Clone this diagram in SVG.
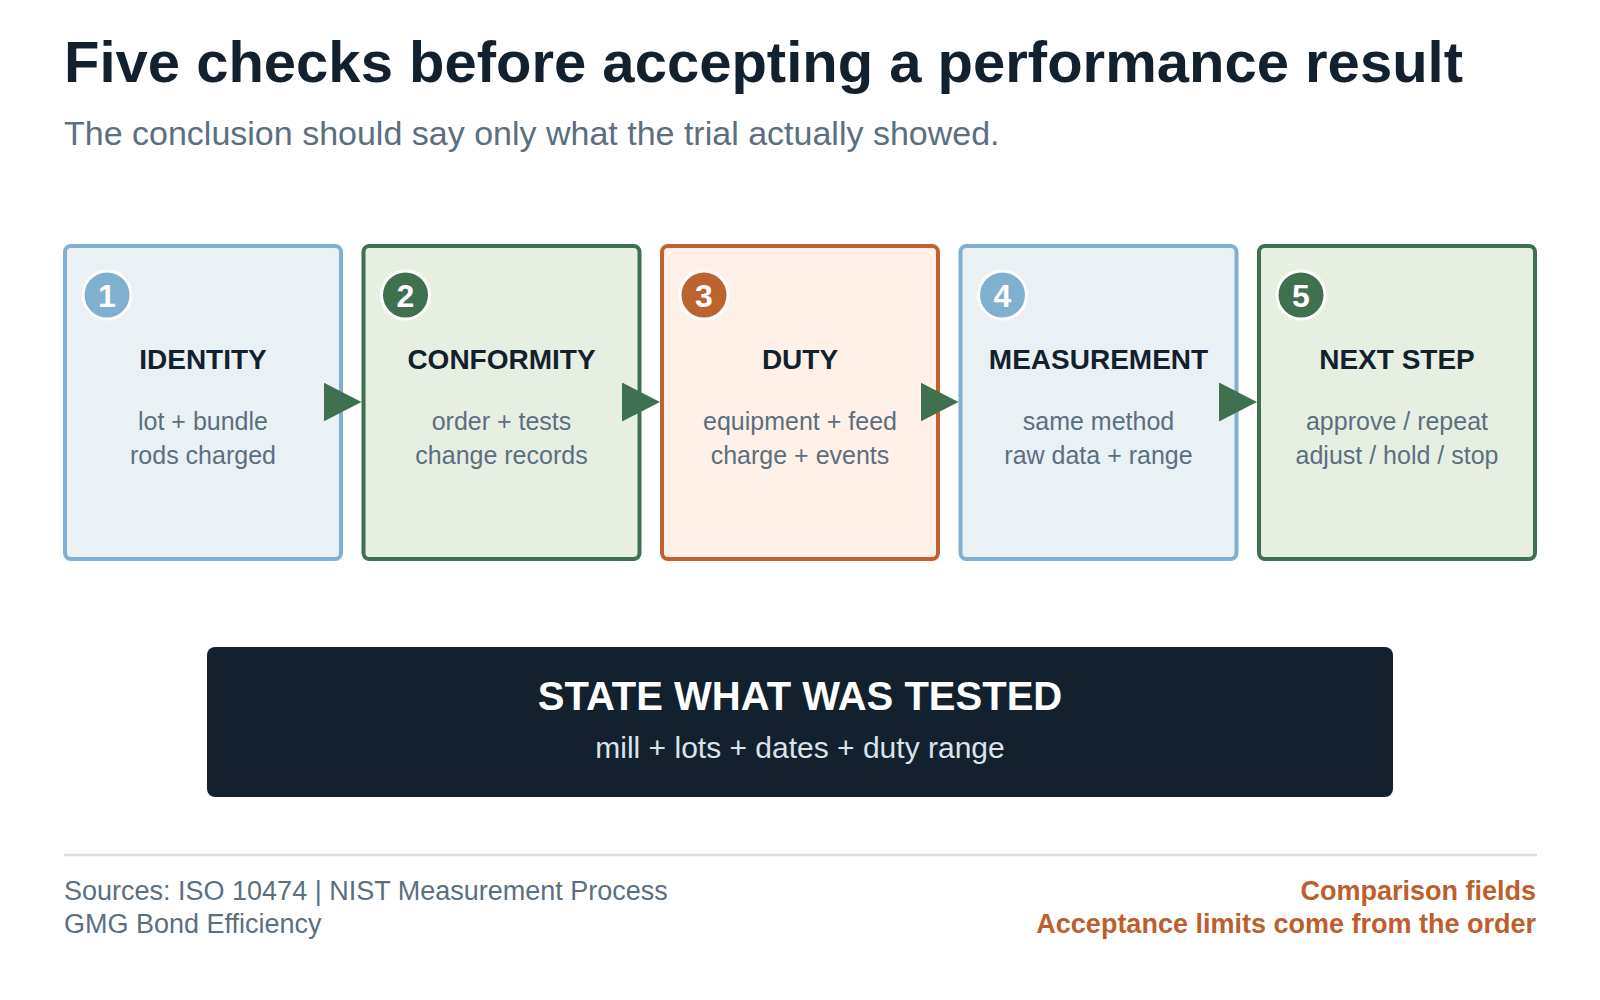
<svg xmlns="http://www.w3.org/2000/svg" width="1600" height="1000" viewBox="0 0 1600 1000">
<style>
text{font-family:"Liberation Sans",Arial,sans-serif}
.title{font-size:58px;font-weight:bold;fill:#13212e}
.sub{font-size:34px;fill:#5b6f80}
.box{stroke-width:4}
.blue .box{fill:#eaf1f5;stroke:#7fb0cf}
.green .box{fill:#e7efe3;stroke:#3f7150}
.orange .box{fill:#fff1e8;stroke:#bd6330}
.blue circle{fill:#7fb0cf}
.green circle{fill:#3f7150}
.orange circle{fill:#bd6330}
circle{stroke:#fff;stroke-width:3}
.num{font-size:32px;font-weight:bold;fill:#fff;text-anchor:middle}
.ht{font-size:28px;font-weight:bold;fill:#13212e;text-anchor:middle}
.bt{font-size:25px;fill:#5b6f80;text-anchor:middle}
.conn{stroke:#3f7150;stroke-width:2;fill:none}
.foot{font-size:27px;fill:#5b6f80}
.footr{font-size:27px;font-weight:bold;fill:#bd5f2b;text-anchor:end}
</style>
<defs>
<marker id="arr" markerUnits="userSpaceOnUse" markerWidth="38" markerHeight="39" refX="26.5" refY="19.5" orient="auto" viewBox="0 0 38 39">
<path d="M0,0 L38,19.5 L0,39 Z" fill="#3f7150"/>
</marker>
</defs>
<rect width="1600" height="1000" fill="#fff"/>
<text class="title" x="64" y="82">Five checks before accepting a performance result</text>
<text class="sub" x="64" y="145">The conclusion should say only what the trial actually showed.</text>

<g id="node1" class="blue">
<rect class="box" x="65" y="246" width="276" height="313" rx="6"/>
<circle cx="107" cy="295" r="24"/>
<text class="num" x="107" y="307">1</text>
<text class="ht" x="203" y="369">IDENTITY</text>
<text class="bt" x="203" y="430">lot + bundle</text>
<text class="bt" x="203" y="464">rods charged</text>
</g>
<g id="node2" class="green">
<rect class="box" x="363.5" y="246" width="276" height="313" rx="6"/>
<circle cx="405.5" cy="295" r="24"/>
<text class="num" x="405.5" y="307">2</text>
<text class="ht" x="501.5" y="369">CONFORMITY</text>
<text class="bt" x="501.5" y="430">order + tests</text>
<text class="bt" x="501.5" y="464">change records</text>
</g>
<g id="node3" class="orange">
<rect class="box" x="662" y="246" width="276" height="313" rx="6"/>
<circle cx="704" cy="295" r="24"/>
<text class="num" x="704" y="307">3</text>
<text class="ht" x="800" y="369">DUTY</text>
<text class="bt" x="800" y="430">equipment + feed</text>
<text class="bt" x="800" y="464">charge + events</text>
</g>
<g id="node4" class="blue">
<rect class="box" x="960.5" y="246" width="276" height="313" rx="6"/>
<circle cx="1002.5" cy="295" r="24"/>
<text class="num" x="1002.5" y="307">4</text>
<text class="ht" x="1098.5" y="369">MEASUREMENT</text>
<text class="bt" x="1098.5" y="430">same method</text>
<text class="bt" x="1098.5" y="464">raw data + range</text>
</g>
<g id="node5" class="green">
<rect class="box" x="1259" y="246" width="276" height="313" rx="6"/>
<circle cx="1301" cy="295" r="24"/>
<text class="num" x="1301" y="307">5</text>
<text class="ht" x="1397" y="369">NEXT STEP</text>
<text class="bt" x="1397" y="430">approve / repeat</text>
<text class="bt" x="1397" y="464">adjust / hold / stop</text>
</g>

<g id="connectors">
<path class="conn" d="M336,402 H350" marker-end="url(#arr)"/>
<path class="conn" d="M634.5,402 H648.5" marker-end="url(#arr)"/>
<path class="conn" d="M933,402 H947" marker-end="url(#arr)"/>
<path class="conn" d="M1231.5,402 H1245.5" marker-end="url(#arr)"/>
</g>

<g id="summary">
<rect x="207" y="647" width="1186" height="150" rx="8" fill="#13212e"/>
<text x="800" y="710" font-size="40" font-weight="bold" fill="#ffffff" text-anchor="middle">STATE WHAT WAS TESTED</text>
<text x="800" y="758" font-size="30" fill="#dbe3ea" text-anchor="middle">mill + lots + dates + duty range</text>
</g>

<line x1="64" y1="855" x2="1537" y2="855" stroke="#d6dfe7" stroke-width="2.5"/>
<text class="foot" x="64" y="900">Sources: ISO 10474 | NIST Measurement Process</text>
<text class="foot" x="64" y="933">GMG Bond Efficiency</text>
<text class="footr" x="1536" y="900">Comparison fields</text>
<text class="footr" x="1536" y="933">Acceptance limits come from the order</text>
</svg>
